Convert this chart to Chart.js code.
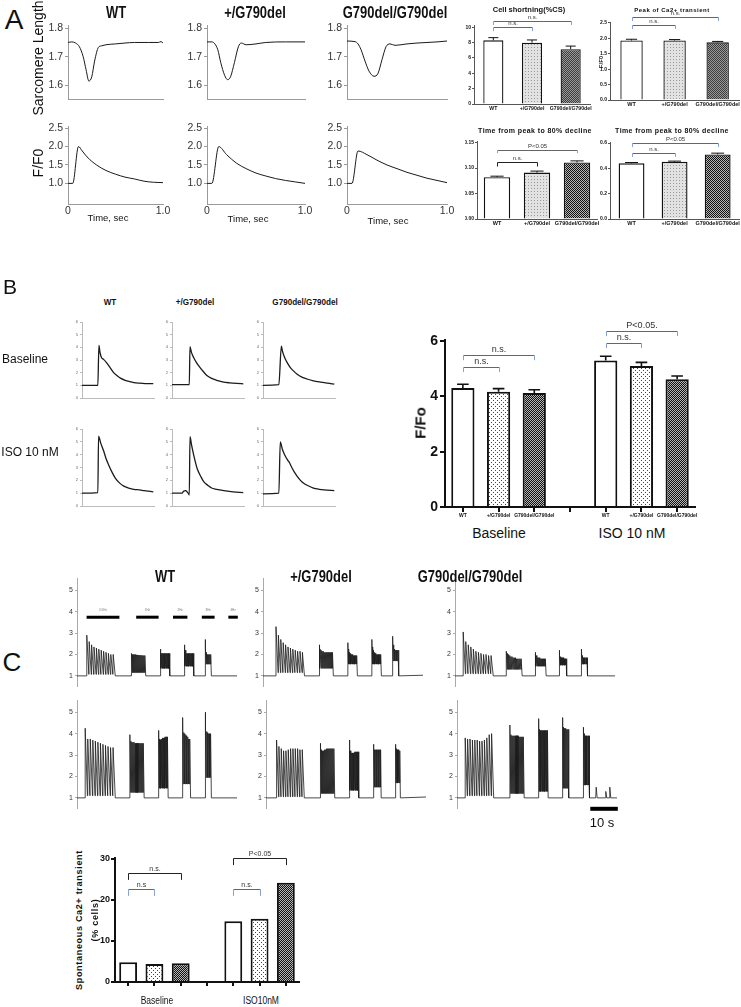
<!DOCTYPE html>
<html>
<head>
<meta charset="utf-8">
<title>G790del figure</title>
<script src="https://cdn.jsdelivr.net/npm/chart.js@4.4.1/dist/chart.umd.min.js"></script>
<style>
  body { margin: 0; background: #fff; }
  #fig { position: relative; width: 741px; height: 1007px; overflow: hidden; background: #fff; }
  #fig canvas { position: absolute; }
  .t { position: absolute; white-space: nowrap; line-height: 1; color: #111; font-family: "Liberation Sans", Arial, sans-serif; z-index: 2; }
</style>
</head>
<body>
<div id="fig"></div>
<script>
// ---------- data ----------
const genotypes = ['WT', '+/G790del', 'G790del/G790del'];
const groupCats = ['WT', '+/G790del', 'G790del/G790del', '', 'WT', '+/G790del', 'G790del/G790del'];

// panel A bar charts
const shorteningVals = [8.3, 8.0, 7.15];
const shorteningErr = [0.35, 0.35, 0.4];
const peakVals = [1.93, 1.93, 1.87];
const peakErr = [0.04, 0.03, 0.03];
const decayVals = [0.082, 0.091, 0.111];
const decayErr = [0.002, 0.003, 0.003];
const decay2Vals = [0.44, 0.452, 0.51];
const decay2Err = [0.006, 0.005, 0.01];

// panel B / C bar charts
const ampVals = [4.3, 4.17, 4.12, null, 5.3, 5.1, 4.62];
const ampErr = [0.14, 0.11, 0.12, null, 0.15, 0.13, 0.12];
const sponVals = [4.8, 4.4, 4.6, null, 14.8, 15.4, 24.2];

// tick labels
const slTicks = [1.6, 1.7, 1.8];
const caTicks = [1.0, 1.5, 2.0, 2.5];
const timeTicks = [0, 1];
const timeLabels = ['0', '1.0'];
const csTicks = [0, 2, 4, 6, 8, 10];
const pkTicks = [0, 0.5, 1.0, 1.5, 2.0, 2.5];
const dcTicks = [0, 0.05, 0.10, 0.15];
const dc2Ticks = [0, 0.2, 0.4, 0.6];
const bTraceTicks = [0, 1, 2, 3, 4, 5, 6];
const ampTicks = [0, 2, 4, 6];
const cTraceTicks = [1, 2, 3, 4, 5];
const sponTicks = [0, 10, 20, 30];

// panel A traces [time s, value]
const slWt = [[0,1.75],[0.04,1.752],[0.08,1.748],[0.12,1.735],[0.16,1.70],[0.19,1.655],[0.22,1.615],[0.25,1.63],[0.28,1.685],[0.32,1.733],[0.35,1.738],[0.4,1.742],[0.5,1.745],[0.6,1.748],[0.7,1.75],[0.85,1.75],[0.95,1.75],[0.98,1.753],[1.0,1.748]];
const slHet = [[0,1.752],[0.05,1.752],[0.08,1.745],[0.11,1.725],[0.14,1.68],[0.18,1.635],[0.21,1.62],[0.24,1.63],[0.28,1.68],[0.32,1.735],[0.35,1.748],[0.4,1.742],[0.5,1.745],[0.6,1.75],[0.8,1.752],[1.0,1.752]];
const slHom = [[0,1.755],[0.08,1.753],[0.11,1.745],[0.14,1.725],[0.18,1.685],[0.22,1.65],[0.27,1.632],[0.31,1.642],[0.35,1.69],[0.39,1.735],[0.43,1.745],[0.48,1.74],[0.6,1.745],[0.7,1.748],[0.8,1.75],[0.9,1.752],[1.0,1.755]];
const caWt = [[0,1.0],[0.05,1.0],[0.11,2.0],[0.15,1.88],[0.2,1.72],[0.3,1.5],[0.4,1.35],[0.5,1.25],[0.6,1.17],[0.7,1.12],[0.8,1.06],[0.9,1.03],[1.0,1.02]];
const caHet = [[0,1.0],[0.05,1.0],[0.12,2.0],[0.2,1.78],[0.3,1.55],[0.4,1.4],[0.5,1.28],[0.6,1.2],[0.7,1.13],[0.8,1.08],[0.9,1.04],[1.0,1.0]];
const caHom = [[0,1.0],[0.05,1.0],[0.11,1.88],[0.2,1.78],[0.3,1.63],[0.4,1.5],[0.5,1.4],[0.6,1.3],[0.7,1.22],[0.8,1.14],[0.9,1.08],[1.0,1.02]];

// panel B traces [% of sweep, F/F0]
const bWtBase = [[0,1.0],[22,1.0],[23.5,4.15],[25,3.6],[27,3.2],[30,3.05],[34,2.8],[39,2.4],[44,2.0],[48,1.8],[54,1.55],[60,1.4],[66,1.3],[72,1.22],[80,1.17],[88,1.14],[99,1.13]];
const bHetBase = [[0,1.05],[24,1.05],[25,4.05],[27,3.6],[30,3.2],[34,2.8],[39,2.4],[44,2.05],[48,1.8],[55,1.55],[62,1.4],[70,1.28],[80,1.2],[90,1.15],[99,1.12]];
const bHomBase = [[0,1.0],[22,1.05],[25.5,4.1],[27,3.7],[30,3.2],[34,2.75],[38,2.4],[43,2.1],[47,1.9],[54,1.65],[61,1.5],[70,1.35],[80,1.25],[90,1.17],[99,1.1]];
const bWtIso = [[0,1.0],[22,1.05],[23,5.45],[26,4.9],[30,4.3],[34,3.6],[37,3.2],[42,2.6],[46,2.2],[52,1.8],[58,1.55],[65,1.4],[72,1.3],[80,1.25],[86,1.2],[99,1.1]];
const bHetIso = [[0,1.0],[14,1.0],[16,1.15],[19,1.2],[21,1.1],[23,0.95],[24,0.85],[25,5.4],[27,4.8],[30,4.0],[33,3.3],[35,2.9],[40,2.3],[44,1.9],[50,1.6],[55,1.4],[62,1.3],[72,1.2],[85,1.1],[99,1.05]];
const bHomIso = [[0,0.95],[22,1.0],[24,5.0],[27,4.4],[30,4.0],[34,3.6],[37,3.35],[40,3.0],[44,2.6],[47,2.35],[52,2.0],[56,1.8],[62,1.6],[70,1.4],[78,1.3],[85,1.25],[99,1.2]];

// panel C pacing trains: [start %, end %, spike peaks, trough]
const cWtTop = [
  [6, 24, [2.9,2.6,2.45,2.35,2.3,2.25,2.2,2.15,2.1,2.05,2.0,2.0], 1.07],
  [34, 43, [2.05,2.0,2.0,2.0,2.0,1.98,1.98,1.97,1.97,1.96,1.96,1.95,1.95,1.95], 1.15],
  [52, 58, [2.25,2.05,2.05,2.05,2.05,2.05,2.05,2.05,2.05,2.05,2.05,2.05], 1.35],
  [67, 73, [2.45,2.2,2.1,2.05,2.05,2.05,2.05,2.05,2.05,2.05,2.05,2.05], 1.45],
  [80, 84, [2.7,2.3,2.1,2.05,2.0,2.0,2.0,2.0,2.0,2.0,2.0,2.0], 1.55]
];
const cHetTop = [
  [8, 26, [3.3,2.9,2.7,2.55,2.45,2.35,2.3,2.25,2.2,2.15,2.15,2.1], 1.15],
  [35, 44, [2.45,2.25,2.2,2.15,2.15,2.1,2.1,2.1,2.1,2.1,2.1,2.1,2.1,2.1], 1.35],
  [53, 59, [2.55,2.25,2.1,2.05,2.0,2.0,2.0,1.95,1.95,1.95,1.95,1.95], 1.55],
  [68, 74, [2.7,2.35,2.2,2.1,2.05,2.0,2.0,2.0,2.0,2.0,2.0,2.0], 1.55],
  [81, 85, [2.85,2.45,2.3,2.25,2.2,2.2,2.2,2.2,2.2,2.2], 1.7]
];
const cHomTop = [
  [5, 24, [3.05,2.6,2.45,2.35,2.25,2.15,2.1,2.05,2.0,2.0,1.95,1.95], 1.1],
  [32, 42, [2.15,2.05,2.0,1.95,1.9,1.9,1.85,1.85,1.85,1.8,1.8,1.8,1.8,1.8], 1.3],
  [50, 57, [2.1,1.95,1.9,1.85,1.85,1.85,1.8,1.8,1.8,1.8,1.8,1.8], 1.45],
  [65, 70, [2.2,1.95,1.9,1.85,1.85,1.85,1.85,1.8,1.8,1.8,1.8,1.8], 1.5],
  [79, 83, [2.25,1.95,1.9,1.85,1.85,1.85,1.85,1.85,1.85,1.85], 1.55]
];
const cWtIso = [
  [5, 24, [4.25,3.75,3.75,3.7,3.65,3.6,3.55,3.5,3.45,3.4,3.35,3.35], 1.1],
  [33, 42, [3.95,3.65,3.6,3.6,3.6,3.55,3.55,3.55,3.55,3.55,3.55,3.55,3.55,3.55], 1.25],
  [51, 57, [4.15,3.75,3.7,3.75,3.75,3.8,3.8,3.8,3.85,3.85,3.85,3.85], 1.45],
  [66, 71, [4.75,4.05,4.0,4.0,3.95,3.9,3.9,3.85,3.8,3.75,3.75,3.7], 1.65],
  [80, 84, [5.0,4.15,4.1,4.05,4.05,4.0,4.0,4.0,4.0,4.0], 1.95]
];
const cHetIso = [
  [6.5, 24, [3.7,3.4,3.3,3.2,3.2,3.25,3.3,3.3,3.3,3.3,3.25,3.25], 1.05],
  [34, 43, [3.55,3.25,3.2,3.2,3.25,3.25,3.3,3.3,3.3,3.3,3.3,3.3,3.3,3.3], 1.2],
  [52, 58, [3.7,3.2,3.1,3.1,3.1,3.1,3.1,3.15,3.15,3.15,3.15,3.15], 1.35],
  [67, 72, [3.5,3.3,3.25,3.25,3.25,3.25,3.25,3.25,3.25,3.25,3.25,3.25], 1.5],
  [81, 84, [3.5,3.3,3.25,3.25,3.25,3.25,3.2,3.2,3.2,3.2], 1.7]
];
const cHomIso = [
  [5, 23, [3.8,3.75,3.75,3.7,3.7,3.7,3.65,3.65,3.7,3.8,3.95,4.0], 1.1],
  [33, 42, [4.4,3.95,3.9,3.9,3.9,3.9,3.9,3.9,3.9,3.85,3.85,3.85,3.85,3.85], 1.2],
  [51, 57, [4.7,4.2,4.15,4.15,4.15,4.15,4.15,4.15,4.15,4.15,4.15,4.15], 1.3],
  [66, 70, [4.75,4.3,4.25,4.25,4.25,4.25,4.25,4.2,4.2,4.2,4.2,4.2], 1.45],
  [79, 83, [4.3,4.0,3.95,3.9,3.9,3.9,3.9,3.9,3.9,3.9], 1.6]
];
const cHomIsoSparks = [[87, 1.5], [93, 1.3], [95.5, 1.5]];
const cBases = [1.0, 1.03, 1.0, 1.0, 1.04, 1.0];
const stimBars = [[6, 26.5, '0.5Hz'], [37, 51, '1Hz'], [60, 69, '2Hz'], [78, 86, '3Hz'], [94.6, 100.5, '4Hz']];

// ---------- helpers ----------
const fig = document.getElementById('fig');
const SANS = '"Liberation Sans", Arial, sans-serif';
const GRAY = '#666';
const BLUE = '#88a3d8';
Chart.defaults.font.family = SANS;

function txt(s, x, y, size, o) {
  o = o || {};
  const d = document.createElement('div');
  d.className = 't';
  d.textContent = s;
  d.style.left = x + 'px';
  d.style.top = y + 'px';
  d.style.fontSize = size + 'px';
  if (o.bold) d.style.fontWeight = 'bold';
  if (o.ls) d.style.letterSpacing = o.ls + 'px';
  if (o.color) d.style.color = o.color;
  let tf = 'translate(-50%,-50%)';
  if (o.rot) tf += ' rotate(-90deg)';
  if (o.sx) tf += ' scaleX(' + o.sx + ')';
  d.style.transform = tf;
  fig.appendChild(d);
}

function makePattern(size, bg, dots) {
  const c = document.createElement('canvas');
  c.width = c.height = size;
  const g = c.getContext('2d');
  g.fillStyle = bg;
  g.fillRect(0, 0, size, size);
  dots.forEach(d => { g.fillStyle = d[2]; g.fillRect(d[0], d[1], 1, 1); });
  return g.createPattern(c, 'repeat');
}
const dotsLight = makePattern(3, '#e2e2e2', [[0, 0, '#999']]);
const gridDark = makePattern(2, '#9a9a9a', [[0, 0, '#3c3c3c'], [1, 1, '#3c3c3c']]);
const dotsSparse = makePattern(4, '#ffffff', [[0, 0, '#444'], [2, 2, '#444']]);
const checkDark = makePattern(2, '#b5b5b5', [[0, 0, '#111'], [1, 1, '#111']]);

const errPlugin = {
  id: 'errbars',
  afterDatasetsDraw(chart, args, opts) {
    if (!opts.err) return;
    const meta = chart.getDatasetMeta(0), ys = chart.scales.y, ctx = chart.ctx;
    const vals = chart.data.datasets[0].data;
    ctx.save();
    ctx.strokeStyle = '#111';
    ctx.lineWidth = opts.lw || 1.2;
    opts.err.forEach((e, i) => {
      if (vals[i] == null || e == null) return;
      const bar = meta.data[i];
      const w = bar.width * 0.5;
      const y0 = ys.getPixelForValue(vals[i]), y1 = ys.getPixelForValue(vals[i] + e);
      ctx.beginPath();
      ctx.moveTo(bar.x, y0); ctx.lineTo(bar.x, y1);
      ctx.moveTo(bar.x - w / 2, y1); ctx.lineTo(bar.x + w / 2, y1);
      ctx.stroke();
    });
    ctx.restore();
  }
};

const bracketPlugin = {
  id: 'brackets',
  afterDraw(chart, args, opts) {
    if (!opts.items) return;
    const ctx = chart.ctx, xs = chart.scales.x, ys = chart.scales.y;
    ctx.save();
    ctx.lineWidth = 1;
    opts.items.forEach(b => {
      const x0 = Math.round(xs.getPixelForValue(b[0])) + 0.5;
      const x1 = Math.round(xs.getPixelForValue(b[1])) + 0.5;
      const y0 = Math.round(ys.getPixelForValue(b[2])) + 0.5;
      const y1 = ys.getPixelForValue(b[3]);
      ctx.strokeStyle = b[5] || GRAY;
      ctx.beginPath(); ctx.moveTo(x0, y0); ctx.lineTo(x1, y0); ctx.stroke();
      ctx.strokeStyle = b[6] || BLUE;
      ctx.beginPath(); ctx.moveTo(x0, y0); ctx.lineTo(x0, y1); ctx.moveTo(x1, y0); ctx.lineTo(x1, y1); ctx.stroke();
      ctx.fillStyle = '#333';
      ctx.font = (opts.size || 7) + 'px ' + SANS;
      ctx.textAlign = 'center';
      ctx.textBaseline = 'bottom';
      ctx.fillText(b[4], (x0 + x1) / 2, y0 - 1);
    });
    ctx.restore();
  }
};

const markPlugin = {
  id: 'marks',
  afterDraw(chart, args, opts) {
    if (!opts.items) return;
    const ctx = chart.ctx, xs = chart.scales.x, ys = chart.scales.y;
    ctx.save();
    opts.items.forEach(m => {
      const x0 = xs.getPixelForValue(m[0]), x1 = xs.getPixelForValue(m[1]);
      const y = ys.getPixelForValue(opts.y);
      ctx.strokeStyle = '#000';
      ctx.lineWidth = opts.lw || 3;
      ctx.beginPath(); ctx.moveTo(x0, y); ctx.lineTo(x1, y); ctx.stroke();
      if (m[2]) {
        ctx.fillStyle = '#777';
        ctx.font = '3px ' + SANS;
        ctx.textAlign = 'center';
        ctx.textBaseline = 'bottom';
        ctx.fillText(m[2], (x0 + x1) / 2, y - 6);
      }
    });
    ctx.restore();
  }
};
Chart.register(errPlugin, bracketPlugin, markPlugin);

function makeChart(box, pad, cfg) {
  const cv = document.createElement('canvas');
  const W = box.w + pad.l + pad.r, H = box.h + pad.t + pad.b;
  cv.width = W; cv.height = H;
  cv.style.left = (box.x - pad.l) + 'px';
  cv.style.top = (box.y - pad.t) + 'px';
  cv.style.width = W + 'px';
  cv.style.height = H + 'px';
  fig.appendChild(cv);
  const op = cfg.options;
  op.responsive = false;
  op.animation = false;
  op.devicePixelRatio = 1;
  op.events = [];
  op.layout = { padding: { left: 0, top: pad.t, right: pad.r, bottom: 0 } };
  op.plugins = Object.assign({ legend: { display: false }, tooltip: { enabled: false } }, op.plugins || {});
  op.scales.x.afterFit = s => { s.height = pad.b; };
  op.scales.y.afterFit = s => { s.width = pad.l; };
  return new Chart(cv, cfg);
}

function lineChart(box, pad, pts, o) {
  const font = { family: SANS, size: o.fs };
  const axc = o.axc || '#9a9a9a';
  return makeChart(box, pad, {
    type: 'line',
    data: { datasets: [{
      data: pts.map(p => ({ x: p[0], y: p[1] })),
      borderColor: '#1b1b1b', borderWidth: o.lw || 1, pointRadius: 0, fill: false,
      tension: 0, cubicInterpolationMode: o.smooth ? 'monotone' : 'default'
    }] },
    options: {
      plugins: o.plugins || {},
      scales: {
        x: { type: 'linear', min: o.xr[0], max: o.xr[1],
             afterBuildTicks: s => { s.ticks = o.xr.map(v => ({ value: v })); },
             ticks: { display: !!o.xl, autoSkip: false, maxRotation: 0, padding: 1, color: '#333', font,
                      callback: (v, i) => (o.xl ? o.xl[i] : '') },
             grid: { display: false, drawTicks: false, tickLength: 0 },
             border: { display: !!o.xline, color: axc, width: 1 } },
        y: { type: 'linear', min: o.yr[0], max: o.yr[1],
             afterBuildTicks: s => { s.ticks = o.yt.map(v => ({ value: v })); },
             ticks: { autoSkip: false, padding: o.ypad || 2, color: o.tc || '#333', font,
                      callback: v => (o.yf ? o.yf(v) : String(v)) },
             grid: { drawOnChartArea: false, tickLength: o.tl || 3, color: axc },
             border: { color: axc, width: 1 } }
      }
    }
  });
}

function barChart(box, pad, cats, vals, fills, o) {
  return makeChart(box, pad, {
    type: 'bar',
    data: { labels: cats, datasets: [{
      data: vals, backgroundColor: fills, borderColor: '#111', borderWidth: o.bw,
      barPercentage: o.bp, categoryPercentage: 1
    }] },
    options: {
      plugins: { errbars: { err: o.err, lw: o.elw }, brackets: { items: o.brackets, size: o.bsize } },
      scales: {
        x: { ticks: { display: o.xfs > 0, autoSkip: false, maxRotation: 0, padding: 1, color: '#111',
                      font: { family: SANS, size: o.xfs || 5, weight: 'bold' } },
             grid: { display: !!o.xtl, drawTicks: !!o.xtl, drawOnChartArea: false, offset: false, tickLength: o.xtl || 0, color: o.axc, lineWidth: o.aw },
             border: { color: o.axc, width: o.aw } },
        y: { min: 0, max: o.ymax,
             afterBuildTicks: s => { s.ticks = o.yt.map(v => ({ value: v })); },
             ticks: { autoSkip: false, padding: o.ypad || 1, color: '#111',
                      font: { family: SANS, size: o.yfs, weight: 'bold' }, callback: o.yf },
             grid: { drawOnChartArea: false, tickLength: o.ytl || 2, color: o.axc, lineWidth: o.aw },
             border: { color: o.axc, width: o.aw } }
      }
    }
  });
}

function spikeTrace(base, trains, sparks, endBase) {
  const pts = [[0, base]];
  trains.forEach(tr => {
    const t0 = tr[0], t1 = tr[1], peaks = tr[2], trough = tr[3];
    const dt = (t1 - t0) / peaks.length;
    pts.push([t0, base]);
    peaks.forEach((p, i) => {
      const ts = t0 + i * dt;
      pts.push([ts + dt * 0.08, p]);
      pts.push([ts + dt * 0.95, i === peaks.length - 1 ? base : trough]);
    });
  });
  (sparks || []).forEach(s => {
    pts.push([s[0] - 0.3, base]);
    pts.push([s[0], s[1]]);
    pts.push([s[0] + 0.6, base]);
  });
  pts.push([100, endBase]);
  return pts;
}

// ---------- panel A ----------
txt('A', 14, 20, 28);
txt('WT', 116, 13, 16, { bold: true, sx: 0.81 });
txt('+/G790del', 255, 13, 16, { bold: true, sx: 0.81 });
txt('G790del/G790del', 395, 13, 16, { bold: true, sx: 0.81 });
txt('Sarcomere Length', 38, 58, 14, { rot: true });
txt('F/F0', 38, 163, 14, { rot: true });

[[68, 95, slWt], [207, 98, slHet], [347, 100, slHom]].forEach(a => {
  lineChart({ x: a[0], y: 25, w: a[1], h: 75 }, { l: 24, t: 8, r: 8, b: 8 }, a[2],
    { xr: timeTicks, xline: true, yr: [1.55, 1.81], yt: slTicks, yf: v => v.toFixed(1), fs: 10.5, smooth: true });
});
[[68, 95, caWt, 108, 218], [207, 98, caHet, 248, 219], [347, 100, caHom, 388, 221]].forEach(a => {
  lineChart({ x: a[0], y: 126, w: a[1], h: 78 }, { l: 24, t: 8, r: 12, b: 16 }, a[2],
    { xr: timeTicks, xl: timeLabels, xline: true, yr: [0.44, 2.55], yt: caTicks, yf: v => v.toFixed(1), fs: 10.5, smooth: true });
  txt('Time, sec', a[3], a[4], 9.5);
});

txt('Cell shortning(%CS)', 529, 10, 7.5, { bold: true });
barChart({ x: 474, y: 25, w: 116, h: 79 }, { l: 12, t: 14, r: 8, b: 10 }, genotypes, shorteningVals,
  ['#fff', dotsLight, gridDark],
  { err: shorteningErr, ymax: 10.3, yt: csTicks, yf: v => String(v), yfs: 5, xfs: 5.2, bp: 0.52, bw: 1.3, axc: '#555', aw: 1, elw: 1,
    brackets: [[0, 1, 10.0, 9.5, 'n.s.'], [0, 2, 10.8, 10.3, 'n.s.']], bsize: 6 });

txt('Peak of Ca2+ transient', 672, 10, 6, { bold: true, ls: 0.5 });
txt('F/F0', 601, 62, 6, { rot: true, bold: true });
barChart({ x: 610, y: 22, w: 130, h: 78 }, { l: 12, t: 14, r: 1, b: 10 }, genotypes, peakVals,
  ['#fff', dotsLight, gridDark],
  { err: peakErr, ymax: 2.53, yt: pkTicks, yf: v => v.toFixed(1), yfs: 5, xfs: 5.5, bp: 0.52, bw: 1.3, axc: '#555', aw: 1, elw: 1,
    brackets: [[0, 1, 2.43, 2.3, 'n.s.'], [0, 2, 2.7, 2.56, 'n.s.']], bsize: 6 });

txt('Time from peak to 80% decline', 535, 130, 7, { bold: true, ls: 0.4 });
barChart({ x: 477, y: 141, w: 120, h: 78 }, { l: 12, t: 10, r: 4, b: 12 }, genotypes, decayVals,
  ['#fff', dotsLight, checkDark],
  { err: decayErr, ymax: 0.153, yt: dcTicks, yf: v => v.toFixed(2), yfs: 5, xfs: 5.5, bp: 0.66, bw: 1.4, axc: '#555', aw: 1, elw: 1,
    brackets: [[0, 1, 0.111, 0.103, 'n.s.', '#222', '#222'], [0, 2, 0.136, 0.129, 'P<0.05']], bsize: 6 });

txt('Time from peak to 80% decline', 672, 130, 7, { bold: true, ls: 0.4 });
barChart({ x: 610, y: 142, w: 130, h: 77 }, { l: 12, t: 10, r: 1, b: 12 }, genotypes, decay2Vals,
  ['#fff', dotsLight, checkDark],
  { err: decay2Err, ymax: 0.608, yt: dc2Ticks, yf: v => v.toFixed(1), yfs: 5, xfs: 5.5, bp: 0.6, bw: 1.4, axc: '#555', aw: 1, elw: 1,
    brackets: [[0, 1, 0.52, 0.49, 'n.s.'], [0, 2, 0.60, 0.568, 'P<0.05']], bsize: 6 });

// ---------- panel B ----------
txt('B', 10, 286, 21);
txt('WT', 110, 302, 9, { bold: true, sx: 0.9 });
txt('+/G790del', 195, 302, 9, { bold: true, sx: 0.9 });
txt('G790del/G790del', 305, 302, 9, { bold: true, sx: 0.9 });
txt('Baseline', 25, 359, 12);
txt('ISO 10 nM', 30, 452, 12);

[[82, 322, 76, bWtBase], [172, 322, 76, bHetBase], [263, 322, 76, bHomBase],
 [82, 429, 77, bWtIso], [172, 429, 77, bHetIso], [263, 429, 77, bHomIso]].forEach(b => {
  lineChart({ x: b[0], y: b[1], w: 72, h: b[2] }, { l: 10, t: 6, r: 4, b: 6 }, b[3],
    { xr: [0, 100], xline: true, yr: [0, 6], yt: bTraceTicks, fs: 4, tc: '#666', tl: 2, axc: '#bbb', lw: 1.3, smooth: true });
});

txt('F/Fo', 420, 423, 15, { bold: true, rot: true });
barChart({ x: 445, y: 340, w: 250, h: 167 }, { l: 30, t: 22, r: 10, b: 14 }, groupCats, ampVals,
  ['#fff', dotsSparse, checkDark, '#fff', '#fff', dotsSparse, checkDark],
  { err: ampErr, ymax: 6.04, yt: ampTicks, yf: v => String(v), yfs: 14, ypad: 2, ytl: 5, xfs: 5, xtl: 5, bp: 0.65, bw: 2, axc: '#111', aw: 2, elw: 1.6,
    brackets: [[0, 1, 5.06, 4.88, 'n.s.'], [0, 2, 5.49, 5.31, 'n.s.'], [4, 5, 5.93, 5.75, 'n.s.'], [4, 6, 6.36, 6.18, 'P<0.05.']], bsize: 9 });
txt('Baseline', 499, 533, 14);
txt('ISO 10 nM', 632, 533, 14);

// ---------- panel C ----------
txt('C', 12, 662, 26);
txt('WT', 165, 577, 16, { bold: true, sx: 0.81 });
txt('+/G790del', 321, 577, 16, { bold: true, sx: 0.81 });
txt('G790del/G790del', 470, 577, 16, { bold: true, sx: 0.81 });

const cPlots = [
  [77, 578, cWtTop, null, { marks: { items: stimBars, y: 3.74, lw: 3 } }],
  [263, 578, cHetTop, null, {}],
  [455, 578, cHomTop, null, {}],
  [77, 700, cWtIso, null, {}],
  [266, 700, cHetIso, null, {}],
  [457, 700, cHomIso, cHomIsoSparks, { marks: { items: [[83.3, 100.5, '']], y: 0.49, lw: 4 } }]
];
cPlots.forEach((c, i) => {
  lineChart({ x: c[0], y: c[1], w: 160, h: 109 }, { l: 14, t: 6, r: 12, b: 6 },
    spikeTrace(1.0, c[2], c[3], cBases[i]),
    { xr: [0, 100], yr: [0.49, 5.56], yt: cTraceTicks, fs: 7, tl: 2, axc: '#aaa', lw: 0.8, plugins: c[4] });
});
txt('10 s', 602, 822, 13);

txt('Spontaneous Ca2+ transient', 79, 920, 9, { bold: true, rot: true, ls: 0.7 });
txt('(% cells)', 95, 920, 9, { bold: true, rot: true, ls: 0.7 });
barChart({ x: 115, y: 858, w: 184, h: 124 }, { l: 16, t: 14, r: 6, b: 8 }, groupCats, sponVals,
  ['#fff', dotsSparse, checkDark, '#fff', '#fff', dotsSparse, checkDark],
  { ymax: 30.24, yt: sponTicks, yf: v => String(v), yfs: 9, ypad: 1, ytl: 4, xfs: 0, xtl: 4, bp: 0.68, bw: 2, axc: '#111', aw: 2,
    brackets: [[0, 1, 22.7, 21.0, 'n.s'], [0, 2, 26.6, 24.9, 'n.s.', '#222', '#222'], [4, 5, 22.7, 21.0, 'n.s.'], [4, 6, 30.2, 28.5, 'P<0.05', '#222', '#222']], bsize: 7 });
txt('Baseline', 157, 1001, 10, { sx: 0.85 });
txt('ISO10nM', 261, 1001, 10, { sx: 0.85 });
</script>
</body>
</html>
